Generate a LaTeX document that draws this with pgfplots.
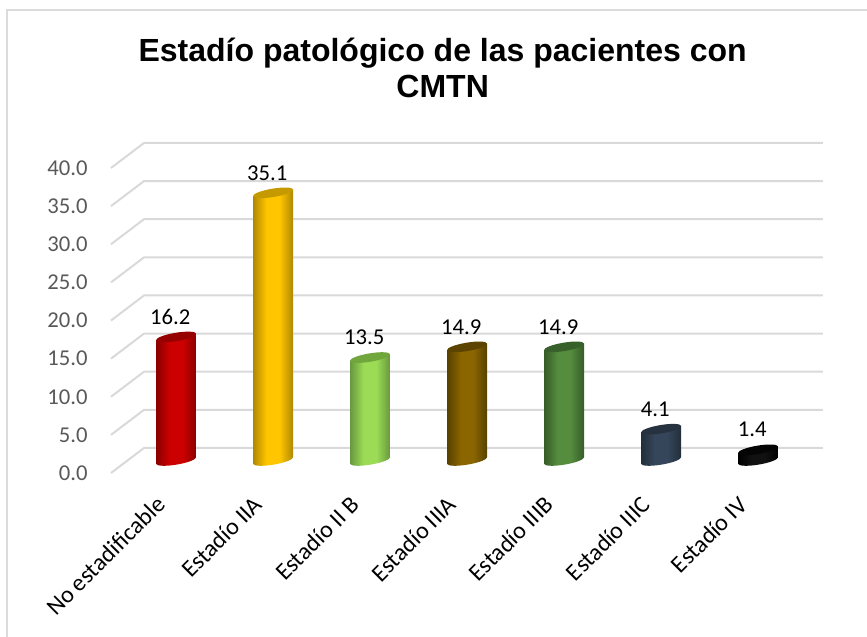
\documentclass[border=0pt]{standalone}
\usepackage{pgfplots}
\pgfplotsset{compat=1.18}
\usepackage{fontspec}
\setmainfont{Carlito}
\newfontfamily\titlefont{Liberation Sans}

% 1 px of the reference = 0.75pt
\newcommand{\cylshade}[3]{%
  \pgfdeclarehorizontalshading{#1}{100bp}{color(0bp)=(#2); color(25bp)=(#2); color(42bp)=(#3); color(58bp)=(#3); color(75bp)=(#2); color(100bp)=(#2)}}
\definecolor{reddark}{HTML}{8A0000}\definecolor{redlight}{HTML}{CC0000}\definecolor{redtop}{HTML}{960000}
\definecolor{yeldark}{HTML}{B08800}\definecolor{yellight}{HTML}{FFC600}\definecolor{yeltop}{HTML}{C49A00}
\definecolor{limdark}{HTML}{68983E}\definecolor{limlight}{HTML}{9BDB55}\definecolor{limtop}{HTML}{70A63C}
\definecolor{brodark}{HTML}{584000}\definecolor{brolight}{HTML}{8A6500}\definecolor{brotop}{HTML}{5C4300}
\definecolor{grndark}{HTML}{365C28}\definecolor{grnlight}{HTML}{558C3E}\definecolor{grntop}{HTML}{38602A}
\definecolor{navdark}{HTML}{222E3B}\definecolor{navlight}{HTML}{35465A}\definecolor{navtop}{HTML}{26323F}
\definecolor{bladark}{HTML}{000000}\definecolor{blalight}{HTML}{111111}\definecolor{blatop}{HTML}{050505}
\cylshade{cylred}{reddark}{redlight}
\cylshade{cylyel}{yeldark}{yellight}
\cylshade{cyllim}{limdark}{limlight}
\cylshade{cylbro}{brodark}{brolight}
\cylshade{cylgrn}{grndark}{grnlight}
\cylshade{cylnav}{navdark}{navlight}
\cylshade{cylbla}{bladark}{blalight}

\newcommand{\cylellipse}{\pgfpathellipse{\pgfpointorigin}{\pgfqpoint{15pt}{2.5pt}}{\pgfqpoint{-0.5pt}{3.1pt}}}
\pgfdeclareplotmark{cyltop}{\cylellipse\pgfusepathqfill}
\newcommand{\declarecylbase}[1]{\pgfdeclareplotmark{base#1}{\cylellipse\pgfshadepath{#1}{0}\pgfusepath{discard}}}
\declarecylbase{cylred}\declarecylbase{cylyel}\declarecylbase{cyllim}\declarecylbase{cylbro}
\declarecylbase{cylgrn}\declarecylbase{cylnav}\declarecylbase{cylbla}

% one cylinder: position, value, shading, colour of the top
% the body is a slightly tilted bar, so that its ends meet the tilted ellipses
\newcommand{\cylinder}[4]{%
  \addplot[only marks, mark=base#3, xshift=12.4pt, yshift=9.4pt] coordinates {(#1,0)};
  \addplot[draw=none, shading=#3, xshift=12.4pt, yshift=9.4pt] coordinates {(#1-0.206,-0.437) (#1+0.206,0.437) (#1+0.206,#2+0.437) (#1-0.206,#2-0.437)} --cycle;
  \addplot[only marks, mark=cyltop, color=#4, xshift=12.4pt, yshift=9.4pt] coordinates {(#1,#2)};
}

\begin{document}
\begin{tikzpicture}
\path[use as bounding box] (0,0) rectangle (650.25pt,477pt);
\draw[color=black!14, line width=1.3pt] (5.5pt,-2pt) -- (5.5pt,469.5pt) -- (652pt,469.5pt);
\begin{axis}[
  at={(83.25pt,122.25pt)}, anchor=south west,
  scale only axis, width=509.25pt, height=228.75pt,
  xmin=-0.5, xmax=6.5, ymin=0, ymax=40,
  clip=false,
  axis line style={draw=none},
  major tick length=0pt,
  xtick={0,1,2,3,4,5,6},
  xticklabels={No estadificable, Estadío IIA, Estadío II B, Estadío IIIA, Estadío IIIB, Estadío IIIC, Estadío IV},
  xticklabel style={rotate=45, anchor=north east, font=\fontsize{18}{20}\selectfont, text=black, xshift=-10.4pt, yshift=-5.5pt},
  ytick={0,5,...,40},
  yticklabel style={font=\fontsize{17}{20}\selectfont, text=black!65, xshift=-14pt},
  /pgf/number format/assume math mode=true,
  /pgf/number format/.cd, fixed, fixed zerofill, precision=1,
  unbounded coords=jump,
]
% wall lines: front left, back left, back right
\addplot[color=black!15, line width=1.5pt] table[row sep=\\] {
x y\\
-0.5 0\\ -0.16 3.28\\ 6.84 3.28\\ nan nan\\
-0.5 5\\ -0.16 8.28\\ 6.84 8.28\\ nan nan\\
-0.5 10\\ -0.16 13.28\\ 6.84 13.28\\ nan nan\\
-0.5 15\\ -0.16 18.28\\ 6.84 18.28\\ nan nan\\
-0.5 20\\ -0.16 23.28\\ 6.84 23.28\\ nan nan\\
-0.5 25\\ -0.16 28.28\\ 6.84 28.28\\ nan nan\\
-0.5 30\\ -0.16 33.28\\ 6.84 33.28\\ nan nan\\
-0.5 35\\ -0.16 38.28\\ 6.84 38.28\\ nan nan\\
-0.5 40\\ -0.16 43.28\\ 6.84 43.28\\
};
\cylinder{0}{16.2}{cylred}{redtop}
\cylinder{1}{35.1}{cylyel}{yeltop}
\cylinder{2}{13.5}{cyllim}{limtop}
\cylinder{3}{14.9}{cylbro}{brotop}
\cylinder{4}{14.9}{cylgrn}{grntop}
\cylinder{5}{4.1}{cylnav}{navtop}
\cylinder{6}{1.4}{cylbla}{blatop}
\addplot[only marks, mark=none, draw=none, xshift=8pt, yshift=24.4pt,
  nodes near coords,
  nodes near coords style={anchor=center, font=\fontsize{17}{20}\selectfont, text=black, /pgf/number format/.cd, fixed, fixed zerofill, precision=1, assume math mode=true},
] coordinates {(0,16.2)(1,35.1)(2,13.5)(3,14.9)(4,14.9)(5,4.1)(6,1.4)};
\end{axis}
\node[font=\titlefont\bfseries\fontsize{24}{27.5}\selectfont, align=center, text=black] at (332pt,426pt) {Estadío patológico de las pacientes con\\CMTN};
\end{tikzpicture}
\end{document}
